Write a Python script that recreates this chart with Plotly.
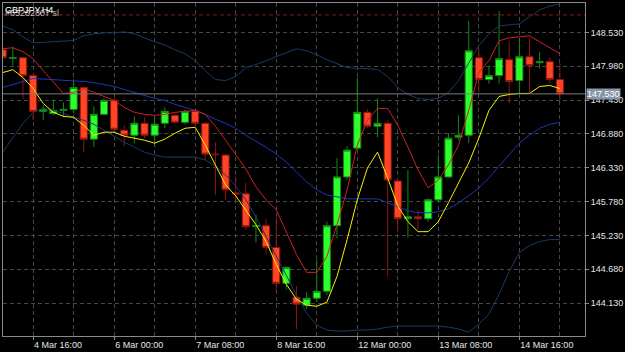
import plotly.graph_objects as go

# ---- data (GBPJPY H4), bar index 0 = 4 Mar 16:00 ----
bar_index = list(range(-3, 53))

open_ = [148.247, 148.110, 148.118, 147.827, 147.246, 147.213, 147.262, 147.278, 147.634, 146.794,
         147.197, 147.424, 146.939, 146.858, 147.052, 146.858, 147.052, 147.181, 147.068, 147.246,
         147.052, 146.551, 146.535, 145.921, 145.905, 145.380, 145.388, 145.033, 144.451, 144.225,
         144.096, 144.209, 144.322, 145.388, 146.180, 146.648, 147.230, 147.004, 147.052, 146.115,
         145.501, 145.533, 145.501, 145.808, 146.180, 146.826, 146.858, 148.118, 147.763, 147.827,
         148.086, 147.747, 148.134, 148.037, 148.054, 147.763]
high = [148.280, 148.296, 148.134, 147.843, 147.343, 147.440, 147.391, 147.763, 147.650, 147.327,
        147.456, 147.456, 147.020, 147.165, 147.149, 147.165, 147.310, 147.213, 147.278, 147.262,
        147.068, 146.745, 146.551, 146.180, 146.083, 145.566, 145.501, 145.517, 144.726, 144.403,
        144.306, 144.839, 145.453, 146.487, 146.680, 147.795, 147.278, 147.456, 147.100, 146.131,
        146.293, 145.646, 145.840, 146.535, 146.890, 147.181, 148.716, 148.264, 147.989, 148.877,
        148.393, 148.441, 148.441, 148.215, 148.118, 148.037]
low = [148.102, 147.989, 147.440, 147.100, 147.100, 147.181, 147.149, 147.213, 146.583, 146.664,
       147.181, 146.923, 146.680, 146.729, 146.810, 146.664, 146.971, 147.052, 147.036, 147.020,
       146.454, 145.889, 145.808, 145.808, 145.323, 145.113, 144.920, 144.306, 144.354, 143.708,
       144.031, 144.144, 144.257, 145.178, 146.131, 146.616, 146.971, 146.826, 144.564, 145.275,
       145.194, 145.323, 145.453, 145.776, 146.164, 146.777, 146.729, 147.553, 147.698, 147.698,
       147.375, 147.537, 147.553, 147.941, 147.698, 147.424]
close = [148.118, 148.118, 147.827, 147.246, 147.278, 147.262, 147.278, 147.634, 146.794, 147.197,
         147.424, 146.955, 146.858, 147.052, 146.858, 147.036, 147.246, 147.068, 147.246, 147.052,
         146.551, 146.543, 145.970, 145.905, 145.372, 145.388, 145.033, 144.451, 144.710, 144.112,
         144.209, 144.322, 145.388, 146.180, 146.616, 147.230, 147.004, 147.052, 146.131, 145.501,
         145.533, 145.501, 145.808, 146.180, 146.810, 146.858, 148.231, 147.763, 147.827, 148.102,
         147.731, 148.134, 147.989, 148.054, 147.763, 147.530]

bb_upper = [148.635, 148.571, 148.457, 148.360, 148.368, 148.377, 148.385, 148.398, 148.474, 148.506,
            148.522, 148.522, 148.538, 148.506, 148.441, 148.377, 148.328, 148.247, 148.183, 148.070,
            147.908, 147.763, 147.747, 147.811, 147.957, 148.005, 148.070, 148.134, 148.199, 148.264,
            148.231, 148.167, 148.086, 148.021, 147.957, 147.941, 147.941, 147.924, 147.811, 147.634,
            147.521, 147.456, 147.440, 147.456, 147.553, 147.747, 148.037, 148.312, 148.506, 148.635,
            148.651, 148.667, 148.781, 148.894, 148.958, 148.991]
ma_mid = [147.634, 147.682, 147.731, 147.779, 147.771, 147.763, 147.755, 147.747, 147.731, 147.714,
          147.682, 147.650, 147.601, 147.553, 147.504, 147.456, 147.424, 147.359, 147.310, 147.262,
          147.197, 147.117, 147.052, 146.971, 146.858, 146.761, 146.664, 146.551, 146.422, 146.260,
          146.099, 145.970, 145.889, 145.857, 145.824, 145.824, 145.824, 145.824, 145.760, 145.695,
          145.630, 145.598, 145.598, 145.614, 145.663, 145.760, 145.873, 146.002, 146.164, 146.357,
          146.535, 146.729, 146.858, 146.971, 147.036, 147.068]
bb_lower = [146.583, 146.826, 147.052, 147.230, 147.294, 147.262, 147.213, 147.149, 147.100, 147.036,
            146.939, 146.842, 146.745, 146.664, 146.583, 146.535, 146.503, 146.503, 146.503, 146.503,
            146.454, 146.357, 146.212, 146.034, 145.808, 145.533, 145.210, 144.903, 144.580, 144.257,
            143.966, 143.772, 143.692, 143.676, 143.676, 143.692, 143.692, 143.708, 143.740, 143.756,
            143.756, 143.756, 143.756, 143.756, 143.740, 143.708, 143.659, 143.789, 143.950, 144.273,
            144.645, 144.952, 145.065, 145.130, 145.162, 145.162]
ma_red = [148.264, 148.280, 148.215, 148.102, 147.908, 147.714, 147.537, 147.553, 147.618, 147.553,
          147.488, 147.424, 147.310, 147.230, 147.197, 147.181, 147.197, 147.230, 147.246, 147.262,
          147.197, 147.004, 146.777, 146.535, 146.309, 146.018, 145.808, 145.646, 145.275, 144.920,
          144.629, 144.629, 144.887, 145.404, 145.970, 146.697, 147.100, 147.294, 147.294, 147.020,
          146.664, 146.293, 146.002, 146.131, 146.373, 146.697, 147.262, 147.876, 148.070, 148.393,
          148.441, 148.457, 148.474, 148.377, 148.280, 148.183]
ma_yellow = [147.876, 147.924, 147.795, 147.618, 147.375, 147.230, 147.165, 147.149, 147.020, 146.858,
             146.907, 146.907, 146.842, 146.810, 146.777, 146.729, 146.794, 146.890, 146.971, 146.987,
             146.697, 146.373, 146.050, 145.873, 145.646, 145.404, 145.130, 144.758, 144.435, 144.193,
             144.096, 144.079, 144.144, 144.564, 145.162, 145.808, 146.325, 146.583, 146.164, 145.711,
             145.453, 145.291, 145.291, 145.453, 145.760, 146.083, 146.406, 146.810, 147.262, 147.488,
             147.521, 147.537, 147.537, 147.650, 147.666, 147.618]

time_tick_index = [0, 8, 16, 24, 32, 40, 48]
time_tick_text = ["4 Mar 16:00", "6 Mar 00:00", "7 Mar 08:00", "8 Mar 16:00",
                  "12 Mar 00:00", "13 Mar 08:00", "14 Mar 16:00"]
minor_grid_index = [4, 12, 20, 28, 36, 44, 52]
price_ticks = [144.130, 144.680, 145.230, 145.780, 146.330, 146.880, 147.430, 147.980, 148.530]
bid_price = 147.530
sl_level = 148.813
symbol_text = "GBPJPY,H4"
order_text = "#65262807 sl"

FONT = "Liberation Sans, Arial, sans-serif"
GRID = "#474747"
AXIS = "#8a8a8a"

fig = go.Figure()
fig.add_trace(go.Candlestick(
    x=bar_index, open=open_, high=high, low=low, close=close,
    increasing=dict(line=dict(color="#118a11", width=1), fillcolor="#2cff2c"),
    decreasing=dict(line=dict(color="#8e1410", width=1), fillcolor="#ff4524"),
    whiskerwidth=0, showlegend=False, hoverinfo="skip"))

for series, col in [(bb_upper, "#1b3a66"), (bb_lower, "#1b3a66"), (ma_mid, "#1f35b8"),
                    (ma_red, "#cc2222"), (ma_yellow, "#f4f400")]:
    fig.add_trace(go.Scatter(x=bar_index, y=series, mode="lines",
                             line=dict(color=col, width=1), showlegend=False, hoverinfo="skip"))

fig.add_hline(y=sl_level, line=dict(color="#8a1a1a", width=1, dash="4px,3px"))
fig.add_hline(y=bid_price, line=dict(color="#7c7c7c", width=1))

fig.add_annotation(x=1, xref="paper", y=bid_price, yref="y", xanchor="left", yanchor="middle",
                   text=f"{bid_price:.3f}", showarrow=False, bgcolor="#8795a8",
                   font=dict(family=FONT, size=9, color="#ffffff"), borderpad=0, xshift=1)
fig.add_annotation(x=0, xref="paper", y=1, yref="paper", xanchor="left", yanchor="top",
                   text=order_text, showarrow=False,
                   font=dict(family=FONT, size=9, color="#bdbdbd"), xshift=0, yshift=-3)
fig.add_annotation(x=0, xref="paper", y=1, yref="paper", xanchor="left", yanchor="top",
                   text=symbol_text, showarrow=False,
                   font=dict(family=FONT, size=9, color="#ffffff"), xshift=0, yshift=0)

fig.update_layout(
    width=625, height=352,
    margin=dict(l=2, r=37, t=2, b=15),
    paper_bgcolor="#000000", plot_bgcolor="#000000",
    showlegend=False,
    boxgap=0.3, boxgroupgap=0.0,
    font=dict(family=FONT, size=9, color="#e6e6e6"),
    xaxis=dict(
        range=[-2.97, 54.48], rangeslider=dict(visible=False),
        tickvals=time_tick_index, ticktext=time_tick_text,
        ticklabelposition="outside right",
        ticks="outside", ticklen=3, tickcolor=AXIS,
        showgrid=True, gridcolor=GRID, griddash="4px,3px", gridwidth=1,
        minor=dict(tickvals=minor_grid_index, showgrid=True, gridcolor=GRID,
                   griddash="4px,3px", ticks=""),
        showline=True, linecolor=AXIS, linewidth=1, mirror=True, zeroline=False,
        tickfont=dict(family=FONT, size=9, color="#e6e6e6"),
    ),
    yaxis=dict(
        range=[143.595, 149.007], side="right",
        tickvals=price_ticks, ticktext=[f"{p:.3f}" for p in price_ticks],
        ticks="outside", ticklen=3, tickcolor=AXIS,
        showgrid=True, gridcolor=GRID, griddash="4px,3px", gridwidth=1,
        showline=True, linecolor=AXIS, linewidth=1, mirror=True, zeroline=False,
        tickfont=dict(family=FONT, size=9, color="#e6e6e6"),
    ),
)

fig.write_html("out.html")
